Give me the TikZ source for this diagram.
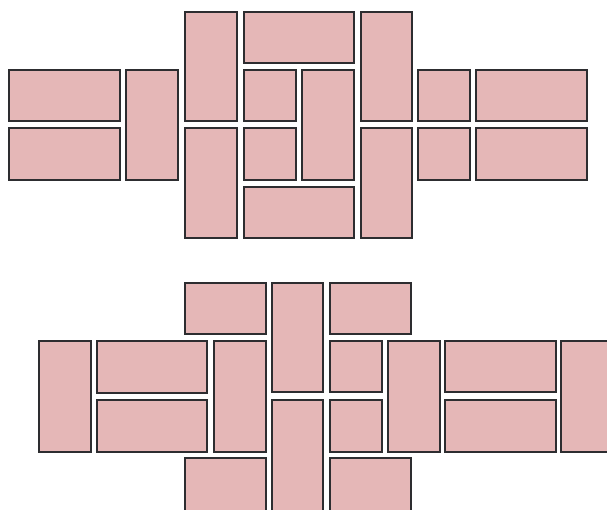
\documentclass[tikz,border=0pt]{standalone}
\usepackage{xcolor}
\usepackage{tikz}

\definecolor{tilepink}{RGB}{229,183,183}
\definecolor{tileedge}{RGB}{45,45,48}

\begin{document}
\begin{tikzpicture}[x=1pt, y=-1pt,
  brick/.style={draw=tileedge, fill=tilepink, line width=2.6pt}]
\useasboundingbox (0,0) rectangle (607,509);
\clip (0,0) rectangle (607,509);
% upper pattern
\foreach \xa/\ya/\xb/\yb in {9/70/120/121, 9/128/120/180, 126/70/178/180,
    185/12/237/121, 185/128/237/238, 244/12/354/63, 244/70/296/121,
    244/128/296/180, 302/70/354/180, 244/187/354/238, 361/12/412/121,
    361/128/412/238, 418/70/470/121, 418/128/470/180, 476/70/587/121,
    476/128/587/180}
  \draw[brick] (\xa,\ya) rectangle (\xb,\yb);
% lower pattern
\foreach \xa/\ya/\xb/\yb in {185/283/266/334, 39/341/91/452, 97/341/207/393,
    97/400/207/452, 214/341/266/452, 272/283/323/392, 272/400/323/525,
    330/283/411/334, 330/341/382/392, 330/400/382/452, 388/341/440/452,
    445/341/556/392, 445/400/556/452, 561/341/625/452, 185/458/266/525,
    330/458/411/525}
  \draw[brick] (\xa,\ya) rectangle (\xb,\yb);
\end{tikzpicture}
\end{document}
